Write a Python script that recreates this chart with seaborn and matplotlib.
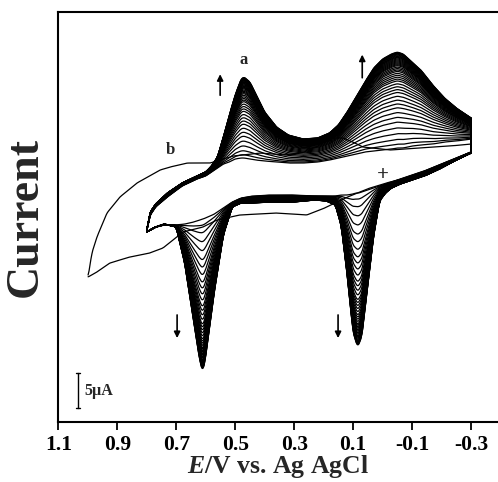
import numpy as np
import pandas as pd
import matplotlib
matplotlib.use("Agg")
import matplotlib.pyplot as plt
import seaborn as sns

# ---- data: repeated potential cycling, current in µA ----
# forward sweep (0.80 V -> -0.30 V) potential nodes
e_upper = [0.80, 0.79, 0.77, 0.73, 0.68, 0.63, 0.60, 0.58, 0.56, 0.54, 0.52, 0.50,
           0.48, 0.47, 0.45, 0.43, 0.40, 0.36, 0.32, 0.27, 0.22, 0.18, 0.15, 0.12,
           0.09, 0.06, 0.03, 0.00, -0.03, -0.05, -0.07, -0.10, -0.13, -0.17, -0.21,
           -0.25, -0.30]
# earliest cycle of the series on the forward sweep
i_upper_start = [-3.14, -0.86, 0.43, 1.86, 3.43, 4.43, 4.86, 5.43, 6.00, 6.57, 6.86,
                 7.29, 7.43, 7.43, 7.29, 7.14, 7.00, 6.86, 6.71, 6.71, 6.86, 7.14,
                 7.43, 7.71, 8.00, 8.29, 8.43, 8.57, 8.71, 8.86, 8.86, 9.14, 9.29,
                 9.43, 9.71, 9.86, 10.14]
# last cycle on the forward sweep
i_upper_end = [-3.14, -0.43, 0.86, 2.43, 3.86, 4.86, 5.43, 6.29, 7.57, 10.43, 13.57,
               16.43, 18.71, 19.00, 18.29, 16.57, 14.00, 11.86, 10.71, 10.14, 10.29,
               11.00, 12.14, 14.00, 16.14, 18.29, 20.29, 21.57, 22.29, 22.57, 22.29,
               21.14, 20.00, 17.86, 16.00, 14.57, 13.14]

# reverse sweep (-0.30 V -> 0.80 V) potential nodes
e_lower = [-0.30, -0.25, -0.20, -0.15, -0.10, -0.06, -0.03, -0.01, 0.01, 0.03, 0.05,
           0.07, 0.08, 0.085, 0.09, 0.10, 0.12, 0.14, 0.16, 0.19, 0.23, 0.30, 0.38,
           0.44, 0.48, 0.51, 0.54, 0.57, 0.60, 0.61, 0.62, 0.64, 0.67, 0.70, 0.74,
           0.77, 0.80]
i_lower_start = [8.29, 7.43, 6.57, 5.71, 5.00, 4.43, 4.00, 3.71, 3.43, 3.14, 2.86,
                 2.57, 2.43, 2.43, 2.43, 2.29, 2.14, 2.14, 2.00, 2.00, 2.00, 2.14,
                 2.14, 2.00, 1.71, 1.14, 0.29, -0.57, -1.14, -1.29, -1.43, -1.71,
                 -2.00, -2.14, -2.14, -2.43, -3.14]
i_lower_end = [8.14, 7.14, 6.00, 5.00, 4.29, 3.71, 3.14, 2.43, 1.29, -3.57, -10.71,
               -18.00, -19.14, -19.57, -18.86, -17.57, -9.29, -2.29, 0.71, 1.29, 1.43,
               1.14, 1.14, 1.00, 1.00, 0.43, -3.57, -11.43, -21.00, -23.14, -21.57,
               -16.14, -7.86, -2.43, -2.00, -2.43, -3.14]

# growth of the redox response from cycle to cycle (0 = earliest, 1 = last)
cycle_growth = [0.0, 0.04, 0.09, 0.15, 0.21, 0.27, 0.32, 0.37, 0.42, 0.46, 0.50,
                0.54, 0.58, 0.61, 0.64, 0.67, 0.70, 0.72, 0.74, 0.76, 0.78, 0.80,
                0.815, 0.83, 0.845, 0.86, 0.87, 0.88, 0.89, 0.90, 0.91, 0.92, 0.93,
                0.94, 0.948, 0.956, 0.964, 0.972, 0.98, 0.986, 0.992, 0.997, 1.0]

# first scan (curve b), wider window up to 1.0 V
e_first_up = [0.999, 0.986, 0.969, 0.935, 0.891, 0.833, 0.755, 0.721, 0.663, 0.585,
              0.507, 0.416, 0.331, 0.263, 0.236, 0.202, 0.134, 0.101, 0.067, -0.025,
              -0.127, -0.229, -0.30]
i_first_up = [-9.57, -6.14, -3.86, -0.43, 1.86, 3.86, 5.71, 6.14, 6.71, 6.71, 7.71,
              8.14, 7.86, 8.29, 9.57, 10.29, 10.29, 9.71, 9.00, 8.57, 8.86, 9.14, 9.43]
e_first_down = [-0.30, -0.229, -0.161, -0.093, -0.025, 0.043, 0.111, 0.155, 0.196,
                0.223, 0.257, 0.358, 0.484, 0.562, 0.609, 0.677, 0.711, 0.745, 0.789,
                0.857, 0.925, 0.969, 0.999]
i_first_down = [8.29, 6.86, 5.71, 4.71, 4.00, 3.14, 2.00, 1.14, 0.29, -0.14, -0.71,
                -0.43, -0.71, -1.43, -2.43, -3.14, -4.29, -5.43, -6.14, -6.71, -7.57,
                -8.86, -9.57]

tick_values = [1.1, 0.9, 0.7, 0.5, 0.3, 0.1, -0.1, -0.3]
tick_labels = ["1.1", "0.9", "0.7", "0.5", "0.3", "0.1", "-0.1", "-0.3"]


def resample(e_nodes, i_nodes, n=500, win=5):
    """Dense, lightly smoothed trace through the sweep nodes (keeps sweep direction)."""
    e_nodes = np.asarray(e_nodes, float)
    i_nodes = np.asarray(i_nodes, float)
    e = np.linspace(e_nodes[0], e_nodes[-1], n)
    order = np.argsort(e_nodes)
    cur = np.interp(e, e_nodes[order], i_nodes[order])
    pad = win // 2
    padded = np.pad(cur, pad, mode="edge")
    cur = np.convolve(padded, np.ones(win) / win, mode="valid")
    return e, cur


eu, iu0 = resample(e_upper, i_upper_start)
_, iu1 = resample(e_upper, i_upper_end)
el, il0 = resample(e_lower, i_lower_start)
_, il1 = resample(e_lower, i_lower_end)

frames = []
for k, g in enumerate(cycle_growth):
    e = np.concatenate([eu, el])
    cur = np.concatenate([iu0 + g * (iu1 - iu0), il0 + g * (il1 - il0)])
    frames.append(pd.DataFrame({"E": e, "I": cur, "cycle": k}))
cycles = pd.concat(frames, ignore_index=True)

ef_u, if_u = resample(e_first_up, i_first_up, n=400, win=3)
ef_d, if_d = resample(e_first_down, i_first_down, n=400, win=3)
first = pd.DataFrame({"E": np.concatenate([ef_u, ef_d]),
                      "I": np.concatenate([if_u, if_d])})

# ---- styling ----
sns.set_style("white")
plt.rcParams["font.family"] = ["Liberation Serif", "DejaVu Serif"]
plt.rcParams["font.weight"] = "bold"
plt.rcParams["mathtext.fontset"] = "custom"
plt.rcParams["mathtext.it"] = "Liberation Serif:italic:bold"
plt.rcParams["mathtext.rm"] = "Liberation Serif:bold"

fig = plt.figure(figsize=(4.98, 4.82), dpi=100)
ax = fig.add_axes([58.3 / 498, 60 / 482, 1 - 58.3 / 498, 410 / 482])

sns.lineplot(data=cycles, x="E", y="I", units="cycle", estimator=None, sort=False,
             color="black", linewidth=0.9, ax=ax)
sns.lineplot(data=first, x="E", y="I", estimator=None, sort=False,
             color="black", linewidth=0.9, ax=ax)

ax.set_xlim(1.1, -0.3915)
ax.set_ylim(-30.29, 28.29)
ax.set_xticks(tick_values)
ax.set_xticklabels(tick_labels, fontsize=15.5, fontweight="bold")
ax.set_yticks([])
ax.tick_params(axis="x", direction="out", length=6, width=1.3, pad=3, bottom=True,
               colors="black")
for side in ("left", "bottom", "top"):
    ax.spines[side].set_linewidth(1.5)
    ax.spines[side].set_color("black")
ax.spines["right"].set_visible(False)

ax.set_xlabel(r"$E$/V vs. Ag AgCl", fontsize=18.5, fontweight="bold", labelpad=-1)
ax.set_ylabel("Current", fontsize=33, fontweight="bold", labelpad=8)

# peak labels and growth arrows
ax.text(0.473, 20.3, "a", fontsize=12, fontweight="bold", ha="center", va="bottom")
ax.text(0.721, 7.4, "b", fontsize=12, fontweight="bold", ha="center", va="bottom")
ax.text(-0.001, 5.0, "+", fontsize=15, ha="center", va="center")
arrow = dict(arrowstyle="-|>", color="black", lw=1.2, mutation_scale=9)
ax.annotate("", xy=(0.551, 19.8), xytext=(0.551, 16.0), arrowprops=arrow)
ax.annotate("", xy=(0.069, 22.6), xytext=(0.069, 18.5), arrowprops=arrow)
ax.annotate("", xy=(0.697, -18.7), xytext=(0.697, -14.6), arrowprops=arrow)
ax.annotate("", xy=(0.151, -18.7), xytext=(0.151, -14.6), arrowprops=arrow)

# 5 µA scale bar
ax.plot([1.033, 1.033], [-28.29, -23.29], color="black", lw=1.0)
ax.plot([1.040, 1.026], [-28.29, -28.29], color="black", lw=1.0)
ax.plot([1.040, 1.026], [-23.29, -23.29], color="black", lw=1.0)
ax.text(1.013, -25.9, "5\u00b5A", fontsize=11.5, fontweight="bold", ha="left", va="center")

fig.savefig("out.png", dpi=100)
